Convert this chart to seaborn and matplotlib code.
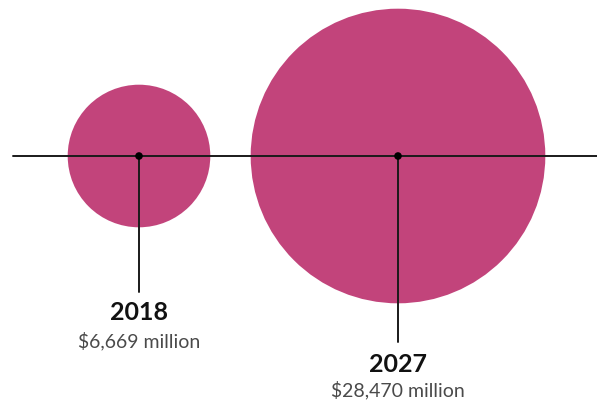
import matplotlib
matplotlib.use("Agg")
import matplotlib.pyplot as plt
from matplotlib.patches import Circle
import seaborn as sns
import pandas as pd
import numpy as np

years = ["2018", "2027"]
values = [6669, 28470]
labels = ["$6,669 million", "$28,470 million"]

sns.set_theme(style="white")
plt.rcParams['font.family'] = ['Lato', 'DejaVu Sans']

W, H = 597, 403
fig = plt.figure(figsize=(W / 100, H / 100), dpi=100)
ax = fig.add_axes([0, 0, 1, 1])

cx = [139, 398]
cy = 156
k = 71.3 / np.sqrt(values[0])
radii = [k * np.sqrt(v) for v in values]
stem_end = [292, 342]
title_y = [313, 364]
sub_y = [341, 390]
color = "#C2447B"

for x, r in zip(cx, radii):
    ax.add_patch(Circle((x, cy), r, facecolor=color, edgecolor="none", zorder=1))

ax.plot([13, W], [cy, cy], color="#1a1a1a", lw=1.4, zorder=2)
for x, ye in zip(cx, stem_end):
    ax.plot([x, x], [cy, ye], color="#1a1a1a", lw=1.4, zorder=2)

df = pd.DataFrame({"x": cx, "y": [cy, cy]})
sns.scatterplot(data=df, x="x", y="y", ax=ax, color="black", s=30, edgecolor="none", zorder=3)
ax.set_xlim(0, W)
ax.set_ylim(H, 0)
ax.axis("off")

for x, yr, lab, ty, sy in zip(cx, years, labels, title_y, sub_y):
    ax.text(x, ty, yr, ha="center", va="center", fontsize=18, fontweight="bold", color="#111111")
    ax.text(x, sy, lab, ha="center", va="center", fontsize=14, color="#4a4a4a")

fig.savefig("out.png", dpi=100)
